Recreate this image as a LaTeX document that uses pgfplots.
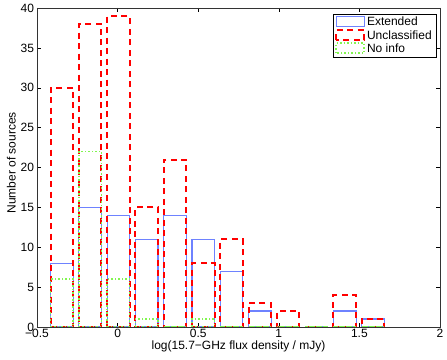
\documentclass[border=0pt]{standalone}
\usepackage{fontspec}
\setmainfont{Liberation Sans}
\usepackage{pgfplots}
\pgfplotsset{compat=1.18}
\usetikzlibrary{calc}

\definecolor{extblue}{RGB}{110,130,255}
\definecolor{unred}{RGB}{255,0,0}
\definecolor{nogreen}{RGB}{130,245,80}

\pgfplotsset{histleg/.style={legend image code/.code={\draw[##1] (0pt,-4.5pt) rectangle (28pt,5.5pt);}}}

\begin{document}
\begin{tikzpicture}
\begin{axis}[
  scale only axis,
  width=403pt, height=319pt,
  xmin=-0.5, xmax=2, ymin=0, ymax=40,
  xtick={-0.5,0,0.5,1,1.5,2},
  xticklabels={−0.5,0,0.5,1,1.5,2},
  ytick={0,5,...,40},
  tick align=inside,
  major tick length=4pt,
  tick style={black, line width=0.4pt},
  axis line style={black!80, line width=0.6pt},
  ticklabel style={font=\fontsize{12}{14}\selectfont},
  xticklabel style={anchor=base, yshift=-10.5pt},
  yticklabel style={xshift=0.5pt},
  /pgf/number format/assume math mode=true,
  xlabel={log(15.7−GHz flux density / mJy)},
  ylabel={Number of sources},
  label style={font=\fontsize{12}{14}\selectfont},
  xlabel style={at={(axis description cs:0.5,0)}, anchor=base, yshift=-23pt},
  ylabel style={at={(axis description cs:-0.0638,0.515)}, anchor=center},
  bar width=0.1404,
  legend style={at={(1,1)}, anchor=north east, xshift=-4pt, yshift=-6pt,
    draw=black, line width=0.5pt, font=\fontsize{12}{14}\selectfont,
    row sep=-1pt, inner xsep=2pt, inner ysep=1pt},
  legend cell align=left,
]
% Extended
\addplot[ybar, bar shift=0pt, color=extblue, draw=extblue, fill=none, line width=1.1pt, histleg]
  coordinates {
  (-0.346,8) (-0.1705,15) (0.005,14) (0.1805,11) (0.356,14) (0.5315,11)
  (0.707,7) (0.8825,2) (1.058,0) (1.2335,0) (1.409,2) (1.5845,1)
};
\addlegendentry{Extended}
% Unclassified
\addplot[ybar, bar shift=0pt, color=unred, draw=unred, fill=none, line width=2pt,
  dash pattern=on 6pt off 4.5pt, histleg]
  coordinates {
  (-0.346,30) (-0.1705,38) (0.005,39) (0.1805,15) (0.356,21) (0.5315,8)
  (0.707,11) (0.8825,3) (1.058,2) (1.2335,0) (1.409,4) (1.5845,1)
};
\addlegendentry{Unclassified}
% No info
\addplot[ybar, bar shift=0pt, color=nogreen, draw=nogreen, fill=none, line width=1.5pt,
  dash pattern=on 1.5pt off 2pt, histleg]
  coordinates {
  (-0.346,6) (-0.1705,22) (0.005,6) (0.1805,1) (0.356,0) (0.5315,1)
  (0.707,0) (0.8825,0) (1.058,0) (1.2335,0) (1.409,0) (1.5845,0)
};
\addlegendentry{No info}
\end{axis}
\pgfresetboundingbox
\path[use as bounding box] ($(current axis.south west)+(-37pt,-33pt)$)
  rectangle ($(current axis.north east)+(7pt,8pt)$);
\end{tikzpicture}
\end{document}
